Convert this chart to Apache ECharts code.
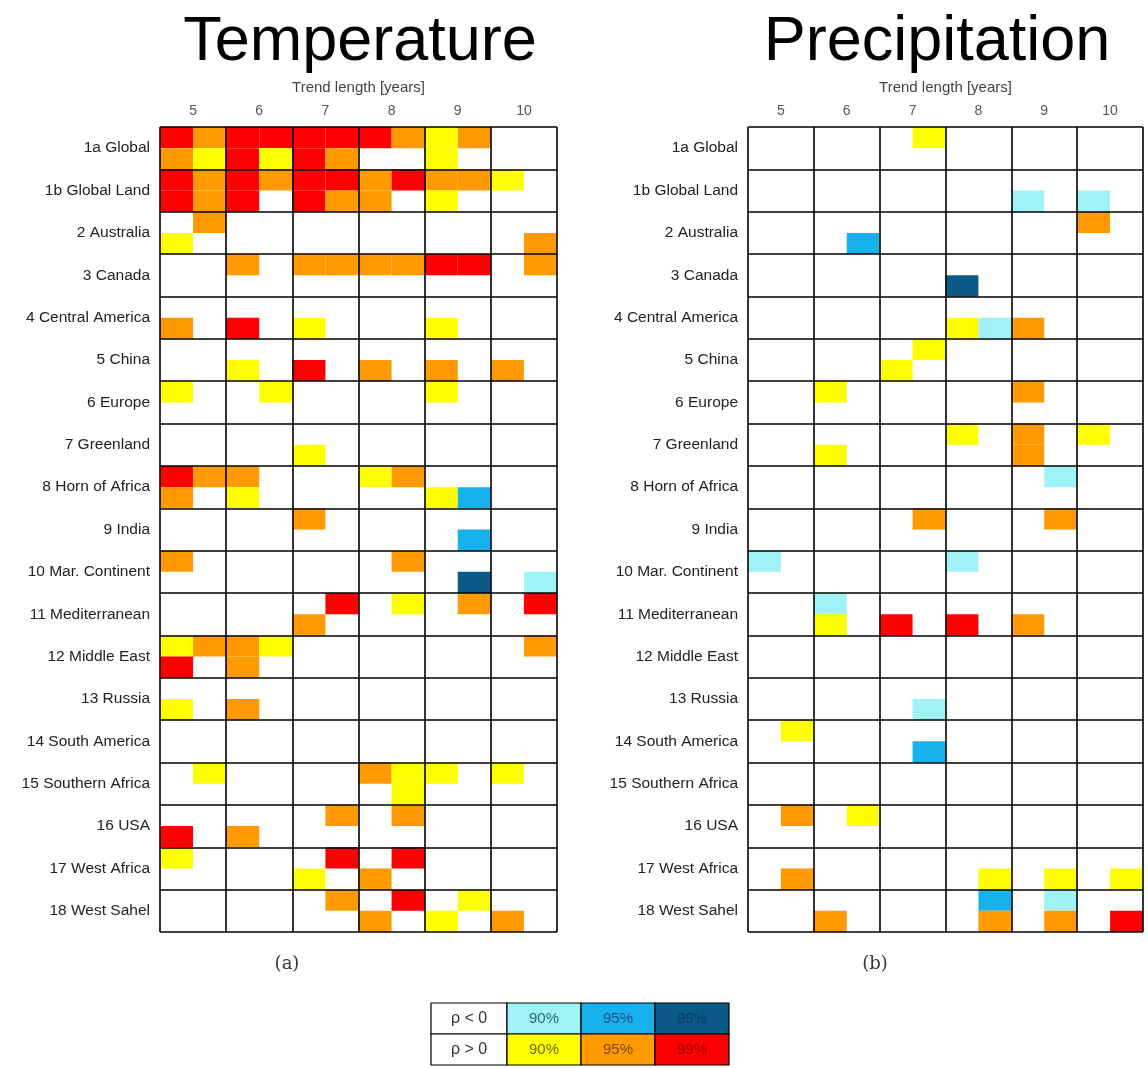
<!DOCTYPE html>
<html>
<head>
<meta charset="utf-8">
<script src="https://cdn.jsdelivr.net/npm/echarts@6/dist/echarts.min.js"></script>
<style>
  html, body { margin: 0; padding: 0; background: #fff; }
  #main { width: 1148px; height: 1068px; }
</style>
</head>
<body>
<div id="main"></div>
<script>
// regions (rows) and trend lengths (columns)
var regions = ['1a Global', '1b Global Land', '2 Australia', '3 Canada', '4 Central America',
  '5 China', '6 Europe', '7 Greenland', '8 Horn of Africa', '9 India', '10 Mar. Continent',
  '11 Mediterranean', '12 Middle East', '13 Russia', '14 South America', '15 Southern Africa',
  '16 USA', '17 West Africa', '18 West Sahel'];
var trendLengths = ['5', '6', '7', '8', '9', '10'];

// each region = 2 sub-rows, each trend length = 2 sub-columns
// . none, c/b/d = rho<0 at 90/95/99%, y/o/r = rho>0 at 90/95/99%
var tempCells = [
  'rorrrrroyo..', 'oyryro..y...',   // 1a
  'rororrorooy.', 'ror.roo.y...',   // 1b
  '.o..........', 'y..........o',   // 2
  '..o.oooorr.o', '............',   // 3
  '............', 'o.r.y...y...',   // 4
  '............', '..y.r.o.o.o.',   // 5
  'y..y....y...', '............',   // 6
  '............', '....y.......',   // 7
  'roo...yo....', 'o.y.....yb..',   // 8
  '....o.......', '.........b..',   // 9
  'o......o....', '.........d.c',   // 10
  '.....r.y.o.r', '....o.......',   // 11
  'yooy.......o', 'r.o.........',   // 12
  '............', 'y.o.........',   // 13
  '............', '............',   // 14
  '.y....oyy.y.', '.......y....',   // 15
  '.....o.o....', 'r.o.........',   // 16
  'y....r.r....', '....y.o.....',   // 17
  '.....o.r.y..', '......o.y.o.'    // 18
];
var precCells = [
  '.....y......', '............',   // 1a
  '............', '........c.c.',   // 1b
  '..........o.', '...b........',   // 2
  '............', '......d.....',   // 3
  '............', '......yco...',   // 4
  '.....y......', '....y.......',   // 5
  '..y.....o...', '............',   // 6
  '......y.o.y.', '..y.....o...',   // 7
  '.........c..', '............',   // 8
  '.....o...o..', '............',   // 9
  'c.....c.....', '............',   // 10
  '..c.........', '..y.r.r.o...',   // 11
  '............', '............',   // 12
  '............', '.....c......',   // 13
  '.y..........', '.....b......',   // 14
  '............', '............',   // 15
  '.o.y........', '............',   // 16
  '............', '.o.....y.y.y',   // 17
  '.......b.c..', '..o....o.o.r'    // 18
];
var levelCodes = { '.': 0, 'c': -1, 'b': -2, 'd': -3, 'y': 1, 'o': 2, 'r': 3 };
var levelLabels = ['90%', '95%', '99%'];

var levelColors = {
  '-1': '#9ff3f6', '-2': '#17b1ee', '-3': '#0b5a87',
  '1': '#ffff00', '2': '#ff9a00', '3': '#ff0000'
};

function toData(rows) {
  var out = [];
  rows.forEach(function (s, r) {
    for (var c = 0; c < s.length; c++) {
      var v = levelCodes[s.charAt(c)];
      if (v) out.push([c, r, v]);
    }
  });
  return out;
}

var myChart = echarts.init(document.getElementById('main'));
var font = 'Liberation Sans, Arial, Helvetica, sans-serif';

function renderCell(params, api) {
  var c = api.value(0), r = api.value(1);
  var p0 = api.coord([c, r]);
  var p1 = api.coord([c + 1, r + 1]);
  return {
    type: 'rect',
    shape: {
      x: Math.min(p0[0], p1[0]), y: Math.min(p0[1], p1[1]),
      width: Math.abs(p1[0] - p0[0]), height: Math.abs(p1[1] - p0[1])
    },
    style: { fill: levelColors[api.value(2)] }
  };
}

var grids = [
  { left: 160, top: 127, width: 397, height: 805 },
  { left: 748, top: 127, width: 395, height: 805 }
];
var xAxes = [], yAxes = [];
grids.forEach(function (g, i) {
  xAxes.push({
    gridIndex: i, type: 'value', min: 0, max: 12, interval: 2, position: 'bottom', z: 5,
    axisLine: { show: false }, axisTick: { show: false }, axisLabel: { show: false },
    splitLine: { show: true, lineStyle: { color: '#000', width: 1.6 } }
  });
  xAxes.push({
    gridIndex: i, type: 'category', position: 'top', data: trendLengths,
    axisLine: { show: false }, axisTick: { show: false }, splitLine: { show: false },
    axisLabel: { fontFamily: font, fontSize: 14, color: '#555', margin: 9 },
    name: 'Trend length [years]', nameLocation: 'middle', nameGap: 32,
    nameTextStyle: { fontFamily: font, fontSize: 15, color: '#444' }
  });
  yAxes.push({
    gridIndex: i, type: 'value', min: 0, max: 38, interval: 2, inverse: true, position: 'right', z: 5,
    axisLine: { show: false }, axisTick: { show: false }, axisLabel: { show: false },
    splitLine: { show: true, lineStyle: { color: '#000', width: 1.6 } }
  });
  yAxes.push({
    gridIndex: i, type: 'category', position: 'left', inverse: true, data: regions,
    axisLine: { show: false }, axisTick: { show: false }, splitLine: { show: false },
    axisLabel: { fontFamily: font, fontSize: 15.5, color: '#222', margin: 10 }
  });
});

// legend table
var legend = [];
var lx = 431, ly = 1003, cw0 = 76, cw = 74, rh = 31;
var textCols = {
  '-1': '#236b78', '-2': '#1b4e8c', '-3': '#0a3f63',
  '1': '#6b6b00', '2': '#7a4800', '3': '#a40000'
};
[['ρ < 0', -1], ['ρ > 0', 1]].forEach(function (row, ri) {
  var y = ly + ri * rh;
  legend.push({ type: 'rect', shape: { x: lx, y: y, width: cw0, height: rh },
    style: { fill: '#fff', stroke: '#000', lineWidth: 1.2 } });
  legend.push({ type: 'text', x: lx + cw0 / 2, y: y + rh / 2,
    style: { text: row[0], fontFamily: font, fontSize: 16, fill: '#333', align: 'center', verticalAlign: 'middle' } });
  for (var k = 0; k < 3; k++) {
    var code = row[1] * (k + 1);
    var x = lx + cw0 + k * cw;
    legend.push({ type: 'rect', shape: { x: x, y: y, width: cw, height: rh },
      style: { fill: levelColors[code], stroke: '#000', lineWidth: 1.2 } });
    legend.push({ type: 'text', x: x + cw / 2, y: y + rh / 2,
      style: { text: levelLabels[k], fontFamily: font, fontSize: 15, fill: textCols[code], align: 'center', verticalAlign: 'middle' } });
  }
});

option = {
  backgroundColor: '#fff',
  animation: false,
  grid: grids,
  xAxis: xAxes,
  yAxis: yAxes,
  graphic: [
    { type: 'text', x: 360, y: 43, style: { text: 'Temperature', fontFamily: font, fontSize: 63, fill: '#000', align: 'center', verticalAlign: 'middle' } },
    { type: 'text', x: 937, y: 43, style: { text: 'Precipitation', fontFamily: font, fontSize: 63, fill: '#000', align: 'center', verticalAlign: 'middle' } },
    { type: 'text', x: 287, y: 964, style: { text: '(a)', fontFamily: 'DejaVu Serif, Liberation Serif, serif', fontSize: 18, fill: '#333', align: 'center', verticalAlign: 'middle' } },
    { type: 'text', x: 875, y: 964, style: { text: '(b)', fontFamily: 'DejaVu Serif, Liberation Serif, serif', fontSize: 18, fill: '#333', align: 'center', verticalAlign: 'middle' } }
  ].concat(legend),
  series: [
    { name: 'Temperature', type: 'custom', xAxisIndex: 0, yAxisIndex: 0, renderItem: renderCell,
      encode: { x: 0, y: 1 }, data: toData(tempCells) },
    { name: 'Precipitation', type: 'custom', xAxisIndex: 2, yAxisIndex: 2, renderItem: renderCell,
      encode: { x: 0, y: 1 }, data: toData(precCells) }
  ]
};

myChart.setOption(option);
window.addEventListener('resize', function () {
  myChart.resize();
});
</script>
</body>
</html>
